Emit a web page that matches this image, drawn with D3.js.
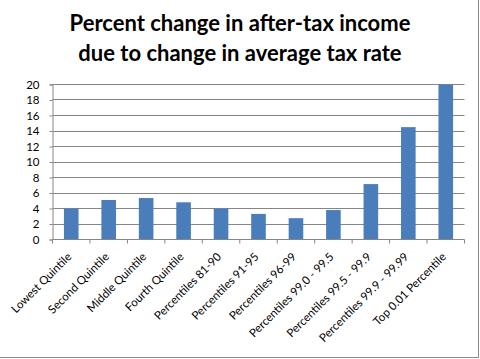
<!DOCTYPE html>
<html>
<head>
<meta charset="utf-8">
<script src="https://cdn.jsdelivr.net/npm/d3@7"></script>
<style>
  body { margin: 0; background: #fff; }
  svg { display: block; font-family: Lato, 'Open Sans', sans-serif; }
</style>
</head>
<body>
<svg width="480" height="359"></svg>
<script>
// Chart data
var categories = ['Lowest Quintile', 'Second Quintile', 'Middle Quintile', 'Fourth Quintile',
    'Percentiles 81-90', 'Percentiles 91-95', 'Percentiles 96-99', 'Percentiles 99.0 - 99.5',
    'Percentiles 99.5 - 99.9', 'Percentiles 99.9 - 99.99', 'Top 0.01 Percentile'];
var values = [4.0, 5.1, 5.35, 4.8, 4.0, 3.3, 2.75, 3.8, 7.15, 14.5, 20.0];
var yTicks = [0, 2, 4, 6, 8, 10, 12, 14, 16, 18, 20];
var titleLines = ['Percent change in after-tax income', 'due to change in average tax rate'];

var svg = d3.select('svg');
var svgWidth = +svg.attr('width');
var svgHeight = +svg.attr('height');

var padding = {t: 84.5, r: 15.5, b: 119.5, l: 52.5};
var chartWidth = svgWidth - padding.l - padding.r;
var chartHeight = svgHeight - padding.t - padding.b;

// outer border
svg.append('rect')
    .attr('x', -1).attr('y', -1)
    .attr('width', svgWidth - 0.5).attr('height', svgHeight - 0.5)
    .attr('fill', 'none')
    .attr('stroke', '#8c8c8c');

// title
svg.append('g').selectAll('text')
    .data(titleLines)
    .enter().append('text')
    .attr('x', 240)
    .attr('y', function(d, i) { return 31 + i * 30; })
    .attr('text-anchor', 'middle')
    .style('font-size', '22px')
    .style('font-weight', 'bold')
    .attr('fill', '#000')
    .text(function(d) { return d; });

var chartG = svg.append('g')
    .attr('transform', 'translate(' + [padding.l, padding.t] + ')');

var xScale = d3.scaleBand()
    .domain(categories)
    .range([0, chartWidth])
    .paddingInner(0.61)
    .paddingOuter(0.305);

var yScale = d3.scaleLinear()
    .domain([0, 20])
    .range([chartHeight, 0]);

// gridlines
chartG.append('g')
    .selectAll('line')
    .data(yTicks.slice(1))
    .enter().append('line')
    .attr('x1', 0).attr('x2', chartWidth)
    .attr('y1', function(d) { return Math.round(yScale(d)); })
    .attr('y2', function(d) { return Math.round(yScale(d)); })
    .attr('stroke', '#868686')
    .attr('stroke-width', 1);

// bars
chartG.selectAll('.bar')
    .data(values)
    .enter().append('rect')
    .attr('class', 'bar')
    .attr('x', function(d, i) { return xScale(categories[i]); })
    .attr('y', function(d) { return yScale(d); })
    .attr('width', xScale.bandwidth())
    .attr('height', function(d) { return chartHeight - yScale(d); })
    .attr('fill', '#4a7ebb');

// y axis
var yAxisG = chartG.append('g')
    .call(d3.axisLeft(yScale).tickValues(yTicks).tickSize(3).tickPadding(10));

// x axis with ticks at category boundaries
var boundaries = d3.range(categories.length + 1).map(function(i) {
    return i * xScale.step();
});
var xAxisG = chartG.append('g')
    .attr('transform', 'translate(' + [0, chartHeight] + ')');
xAxisG.append('line')
    .attr('x1', 0).attr('x2', chartWidth)
    .attr('stroke', '#868686');
xAxisG.selectAll('.tick')
    .data(boundaries)
    .enter().append('line')
    .attr('class', 'tick')
    .attr('x1', function(d) { return d; })
    .attr('x2', function(d) { return d; })
    .attr('y1', 0).attr('y2', 4)
    .attr('stroke', '#868686');
xAxisG.selectAll('.label')
    .data(categories)
    .enter().append('text')
    .attr('class', 'label')
    .attr('text-anchor', 'end')
    .attr('transform', function(d) {
        var x = xScale(d) + xScale.bandwidth() / 2 + 1;
        return 'translate(' + [x, 18] + ') rotate(-45)';
    })
    .style('font-size', '11.5px')
    .attr('fill', '#000')
    .text(function(d) { return d; });

yAxisG.selectAll('path').attr('stroke', '#868686');
yAxisG.selectAll('line').attr('stroke', '#868686');
yAxisG.selectAll('text')
    .style('font-size', '11.5px')
    .style('font-family', "Lato, 'Open Sans', sans-serif")
    .attr('fill', '#000');
</script>
</body>
</html>
